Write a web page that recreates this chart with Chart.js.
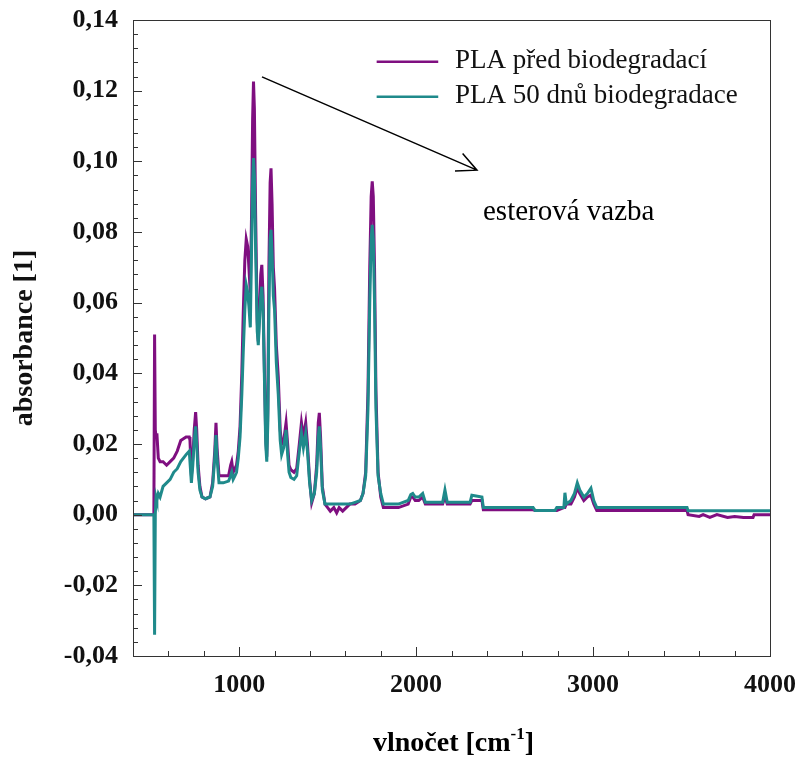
<!DOCTYPE html>
<html>
<head>
<meta charset="utf-8">
<script src="https://cdn.jsdelivr.net/npm/chart.js@4.4.1/dist/chart.umd.min.js"></script>
<style>
  body { margin: 0; background: #fff; }
  #wrap { width: 801px; height: 760px; }
</style>
</head>
<body>
<div id="wrap"><canvas id="ftir" width="801" height="760"></canvas></div>
<script>
// FTIR spectra of PLA
const wavenumber = [400, 518, 522, 526, 530, 535, 543, 553, 570, 590,
  610, 630, 650, 670, 700, 718, 722, 730, 738, 746,
  754, 760, 768, 778, 790, 810, 835, 850, 862, 869,
  875, 886, 910, 940, 952, 958, 966, 976, 985, 995,
  1005, 1015, 1023, 1032, 1040, 1048, 1055, 1063, 1070, 1076,
  1081, 1086, 1093, 1102, 1108, 1115, 1122, 1128, 1135, 1143,
  1150, 1156, 1162, 1168, 1175, 1180, 1186, 1193, 1200, 1210,
  1221, 1232, 1240, 1252, 1265, 1274, 1282, 1292, 1310, 1325,
  1340, 1352, 1363, 1376, 1386, 1398, 1410, 1425, 1438, 1447,
  1453, 1460, 1470, 1485, 1500, 1515, 1535, 1551, 1565, 1585,
  1605, 1625, 1655, 1685, 1700, 1715, 1728, 1738, 1746, 1752,
  1758, 1765, 1773, 1785, 1800, 1815, 1900, 1955, 1970, 1981,
  1995, 2015, 2037, 2052, 2150, 2163, 2176, 2305, 2315, 2372,
  2380, 2661, 2672, 2785, 2795, 2835, 2841, 2849, 2875, 2895,
  2911, 2925, 2948, 2968, 2988, 3004, 3021, 3531, 3537, 3600,
  3622, 3660, 3700, 3760, 3800, 3850, 3904, 3910, 4000];

const absBefore = [0, 0, 0.051, 0.024, 0.022, 0.023, 0.016, 0.015, 0.015, 0.014,
  0.015, 0.016, 0.018, 0.021, 0.022, 0.022, 0.021, 0.011, 0.016, 0.024,
  0.029, 0.024, 0.014, 0.008, 0.005, 0.0045, 0.005, 0.009, 0.018, 0.026,
  0.019, 0.011, 0.011, 0.011, 0.014, 0.015, 0.012, 0.013, 0.014, 0.018,
  0.025, 0.040, 0.057, 0.072, 0.078, 0.076, 0.070, 0.0627, 0.085, 0.112,
  0.1226, 0.115, 0.085, 0.055, 0.049, 0.058, 0.068, 0.0707, 0.062, 0.040,
  0.022, 0.0164, 0.030, 0.070, 0.094, 0.098, 0.088, 0.070, 0.064, 0.048,
  0.039, 0.024, 0.020, 0.021, 0.026, 0.020, 0.014, 0.0127, 0.012, 0.013,
  0.020, 0.026, 0.022, 0.026, 0.020, 0.010, 0.0034, 0.006, 0.014, 0.026,
  0.0288, 0.022, 0.008, 0.003, 0.002, 0.001, 0.002, 0.0005, 0.002, 0.001,
  0.002, 0.003, 0.003, 0.004, 0.006, 0.012, 0.035, 0.070, 0.090, 0.0943,
  0.090, 0.070, 0.035, 0.012, 0.005, 0.002, 0.002, 0.003, 0.005, 0.005,
  0.004, 0.004, 0.005, 0.003, 0.003, 0.005, 0.003, 0.003, 0.004, 0.004,
  0.0014, 0.0014, 0.0012, 0.0012, 0.0012, 0.002, 0.002, 0.003, 0.003, 0.005,
  0.0076, 0.006, 0.004, 0.005, 0.0055, 0.003, 0.0012, 0.0012, 0, -0.0005,
  0, -0.0008, 0, -0.0008, -0.0005, -0.0008, -0.0008, 0, 0];

const absAfter = [0, 0, -0.034, 0, 0.005, 0.004, 0.006, 0.005, 0.008, 0.009,
  0.010, 0.012, 0.013, 0.015, 0.017, 0.018, 0.018, 0.009, 0.014, 0.021,
  0.025, 0.020, 0.012, 0.007, 0.005, 0.0045, 0.005, 0.008, 0.016, 0.0225,
  0.016, 0.009, 0.009, 0.0095, 0.011, 0.012, 0.010, 0.011, 0.012, 0.016,
  0.022, 0.034, 0.046, 0.058, 0.065, 0.063, 0.059, 0.053, 0.075, 0.094,
  0.1009, 0.096, 0.075, 0.052, 0.048, 0.055, 0.062, 0.0645, 0.058, 0.038,
  0.020, 0.015, 0.026, 0.058, 0.078, 0.0806, 0.074, 0.062, 0.058, 0.043,
  0.034, 0.021, 0.017, 0.019, 0.024, 0.017, 0.012, 0.0105, 0.010, 0.011,
  0.018, 0.023, 0.019, 0.023, 0.018, 0.009, 0.004, 0.006, 0.012, 0.022,
  0.025, 0.019, 0.007, 0.003, 0.003, 0.003, 0.003, 0.003, 0.003, 0.003,
  0.003, 0.003, 0.0035, 0.004, 0.006, 0.011, 0.030, 0.060, 0.078, 0.082,
  0.078, 0.060, 0.030, 0.011, 0.006, 0.003, 0.003, 0.004, 0.0057, 0.006,
  0.005, 0.005, 0.006, 0.0035, 0.0035, 0.007, 0.0035, 0.0035, 0.0055, 0.005,
  0.002, 0.002, 0.0012, 0.0012, 0.002, 0.002, 0.0062, 0.003, 0.004, 0.006,
  0.009, 0.007, 0.005, 0.006, 0.0075, 0.004, 0.002, 0.002, 0.0011, 0.0011,
  0.0011, 0.0011, 0.0011, 0.0011, 0.0011, 0.0011, 0.0011, 0.0011, 0.0011];

const seriesNames = ['PLA před biodegradací', 'PLA 50 dnů biodegradace'];
const seriesColors = ['#7f0f80', '#1f8a8b'];

const xTicks = [1000, 2000, 3000, 4000];
const yTicks = [-0.04, -0.02, 0, 0.02, 0.04, 0.06, 0.08, 0.10, 0.12, 0.14];

// legend rows and arrow annotation, in data units
const legendRows = [0.1282, 0.1183];
const legendLine = [1777, 2125];
const legendTextX = 2220;
const arrowFrom = { x: 1129, y: 0.1239 };
const arrowTo = { x: 2344, y: 0.0975 };
const noteText = 'esterová vazba';
const notePos = { x: 2378, y: 0.0856 };

const serif = "'Liberation Serif', 'Times New Roman', serif";

const toPoints = vals => vals.map((v, i) => ({ x: wavenumber[i], y: v }));

// frame, inward ticks, legend, arrow and x title
const decorations = {
  id: 'decorations',
  afterDatasetsDraw(chart) {
    const { ctx, chartArea: a, scales: { x, y } } = chart;
    ctx.save();
    ctx.strokeStyle = '#333';
    ctx.lineWidth = 1;
    ctx.strokeRect(a.left + 0.5, a.top + 0.5, a.right - a.left, a.bottom - a.top);

    ctx.beginPath();
    for (let i = 0; i <= 45; i++) {
      const py = Math.round(y.getPixelForValue(-0.04 + i * 0.004)) + 0.5;
      const len = i % 5 === 0 ? 9 : 5;
      ctx.moveTo(a.left, py);
      ctx.lineTo(a.left + len, py);
    }
    for (let v = 400; v <= 4000; v += 200) {
      const px = Math.round(x.getPixelForValue(v)) + 0.5;
      const len = v % 1000 === 0 ? 9 : 5;
      ctx.moveTo(px, a.bottom);
      ctx.lineTo(px, a.bottom - len);
    }
    ctx.stroke();

    // legend
    ctx.font = '27px ' + serif;
    ctx.textBaseline = 'middle';
    ctx.textAlign = 'left';
    seriesNames.forEach((name, i) => {
      const py = y.getPixelForValue(legendRows[i]);
      ctx.strokeStyle = seriesColors[i];
      ctx.lineWidth = 2.5;
      ctx.beginPath();
      ctx.moveTo(x.getPixelForValue(legendLine[0]), py);
      ctx.lineTo(x.getPixelForValue(legendLine[1]), py);
      ctx.stroke();
      ctx.fillStyle = '#111';
      ctx.fillText(name, x.getPixelForValue(legendTextX), py - 1);
    });

    // arrow
    const x0 = x.getPixelForValue(arrowFrom.x), y0 = y.getPixelForValue(arrowFrom.y);
    const x1 = x.getPixelForValue(arrowTo.x), y1 = y.getPixelForValue(arrowTo.y);
    const ang = Math.atan2(y1 - y0, x1 - x0);
    ctx.strokeStyle = '#000';
    ctx.lineWidth = 1.5;
    ctx.beginPath();
    ctx.moveTo(x0, y0);
    ctx.lineTo(x1, y1);
    ctx.moveTo(x1 - 22 * Math.cos(ang - 0.45), y1 - 22 * Math.sin(ang - 0.45));
    ctx.lineTo(x1, y1);
    ctx.lineTo(x1 - 22 * Math.cos(ang + 0.45), y1 - 22 * Math.sin(ang + 0.45));
    ctx.stroke();

    ctx.font = '29px ' + serif;
    ctx.fillStyle = '#000';
    ctx.fillText(noteText, x.getPixelForValue(notePos.x), y.getPixelForValue(notePos.y));

    // x axis title with superscript
    const cx = (a.left + a.right) / 2 + 2;
    const ty = 751;
    const big = 'bold 28px ' + serif, small = 'bold 17px ' + serif;
    ctx.font = big;
    const w1 = ctx.measureText('vlnočet [cm').width;
    const w3 = ctx.measureText(']').width;
    ctx.font = small;
    const w2 = ctx.measureText('-1').width;
    const sx = cx - (w1 + w2 + w3) / 2;
    ctx.textBaseline = 'alphabetic';
    ctx.font = big;
    ctx.fillText('vlnočet [cm', sx, ty);
    ctx.font = small;
    ctx.fillText('-1', sx + w1, ty - 12);
    ctx.font = big;
    ctx.fillText(']', sx + w1 + w2, ty);
    ctx.restore();
  }
};

new Chart(document.getElementById('ftir'), {
  type: 'line',
  data: {
    datasets: [
      {
        label: seriesNames[0],
        data: toPoints(absBefore),
        borderColor: seriesColors[0],
        borderWidth: 3,
        pointRadius: 0,
        tension: 0,
        order: 2
      },
      {
        label: seriesNames[1],
        data: toPoints(absAfter),
        borderColor: seriesColors[1],
        borderWidth: 3,
        pointRadius: 0,
        tension: 0,
        order: 1
      }
    ]
  },
  options: {
    responsive: false,
    animation: false,
    layout: { padding: { left: 0, top: 20, right: 31, bottom: 0 } },
    plugins: {
      legend: { display: false },
      tooltip: { enabled: false }
    },
    scales: {
      x: {
        type: 'linear',
        min: 400,
        max: 4000,
        afterBuildTicks: s => { s.ticks = xTicks.map(v => ({ value: v })); },
        afterFit: s => { s.height = 104; s.paddingLeft = 0; s.paddingRight = 0; },
        grid: { display: false, drawTicks: false },
        border: { display: false },
        ticks: {
          padding: 14,
          color: '#111',
          maxRotation: 0,
          font: { family: serif, size: 26, weight: 'bold' },
          callback: v => String(v)
        }
      },
      y: {
        min: -0.04,
        max: 0.14,
        afterBuildTicks: s => { s.ticks = yTicks.map(v => ({ value: v })); },
        afterFit: s => { s.width = 133; s.paddingTop = 0; s.paddingBottom = 0; },
        grid: { display: false, drawTicks: false },
        border: { display: false },
        ticks: {
          padding: 15,
          color: '#111',
          font: { family: serif, size: 26, weight: 'bold' },
          callback: v => v.toFixed(2).replace('.', ',')
        },
        title: {
          display: true,
          text: 'absorbance [1]',
          color: '#111',
          padding: { top: 8, bottom: 0 },
          font: { family: serif, size: 28, weight: 'bold' }
        }
      }
    }
  },
  plugins: [decorations]
});
</script>
</body>
</html>
